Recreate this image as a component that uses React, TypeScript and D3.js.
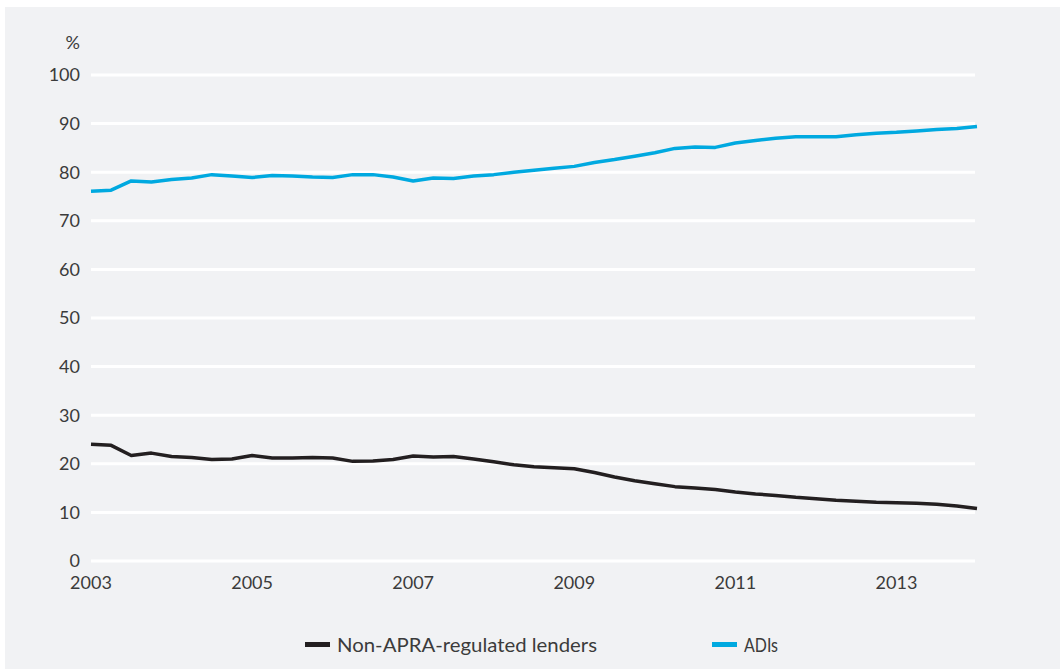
import { useMemo } from "react";
import * as d3 from "d3";

// quarterly observations, 2003 Q1 to 2014 Q1
const startYear = 2003;
const adis = [
  76.1, 76.3, 78.2, 78.0, 78.5, 78.8, 79.5, 79.2, 78.9, 79.3, 79.2, 79.0,
  78.9, 79.5, 79.5, 79.0, 78.2, 78.8, 78.7, 79.2, 79.5, 80.0, 80.4, 80.8,
  81.2, 82.0, 82.6, 83.3, 84.0, 84.9, 85.2, 85.1, 86.0, 86.5, 87.0, 87.3,
  87.3, 87.3, 87.7, 88.0, 88.2, 88.5, 88.8, 89.0, 89.4,
];
const nonApra = [
  24.0, 23.8, 21.7, 22.2, 21.5, 21.3, 20.9, 21.0, 21.7, 21.2, 21.2, 21.3,
  21.2, 20.5, 20.6, 20.9, 21.6, 21.4, 21.5, 21.0, 20.4, 19.8, 19.4, 19.2,
  19.0, 18.2, 17.3, 16.5, 15.9, 15.3, 15.0, 14.7, 14.2, 13.8, 13.5, 13.1,
  12.8, 12.5, 12.3, 12.1, 12.0, 11.9, 11.7, 11.3, 10.8,
];
const yTicks = [0, 10, 20, 30, 40, 50, 60, 70, 80, 90, 100];
const xTicks = [2003, 2005, 2007, 2009, 2011, 2013];
const seriesNames = ["Non-APRA-regulated lenders", "ADIs"];
const seriesColors = ["#231f20", "#00a9e0"];

const W = 1060;
const H = 669;
const font = "Lato, 'Open Sans', sans-serif";
const textColor = "#3b3b3b";

export default function App() {
  const x = d3.scaleLinear().domain([2003, 2014]).range([91, 977]);
  const y = d3.scaleLinear().domain([0, 100]).range([561, 75]);

  const line = useMemo(
    () =>
      d3
        .line<number>()
        .x((_, i) => x(startYear + i / 4))
        .y((d) => y(d)),
    []
  );

  const series = [nonApra, adis];

  return (
    <svg
      width={W}
      height={H}
      style={{ position: "absolute", left: 0, top: 0 }}
      fontFamily={font}
    >
      <rect x={0} y={0} width={W} height={H} fill="#ffffff" />
      <rect x={5} y={7} width={W - 5} height={H - 7} fill="#f1f2f4" />

      {/* gridlines + y labels */}
      {yTicks.map((t) => (
        <g key={t}>
          <line
            x1={91}
            x2={975}
            y1={y(t)}
            y2={y(t)}
            stroke="#ffffff"
            strokeWidth={3}
          />
          <text
            x={80}
            y={y(t)}
            dy="0.35em"
            textAnchor="end"
            fontSize={18}
            fill={textColor}
          >
            {t}
          </text>
        </g>
      ))}
      <text x={80} y={43} dy="0.35em" textAnchor="end" fontSize={18} fill={textColor}>
        %
      </text>

      {/* x labels */}
      {xTicks.map((t) => (
        <text
          key={t}
          x={x(t)}
          y={583}
          dy="0.35em"
          textAnchor="middle"
          fontSize={18}
          fill={textColor}
        >
          {t}
        </text>
      ))}

      {/* lines */}
      {series.map((s, i) => (
        <path
          key={i}
          d={line(s) ?? ""}
          fill="none"
          stroke={seriesColors[i]}
          strokeWidth={3.5}
          strokeLinejoin="round"
        />
      ))}

      {/* legend */}
      {seriesNames.map((name, i) => {
        const lx = i === 0 ? 305 : 712;
        return (
          <g key={name}>
            <rect x={lx} y={642} width={25} height={5} fill={seriesColors[i]} />
            <text
              x={lx + 32}
              y={645}
              dy="0.35em"
              fontSize={19}
              fill={textColor}
              textLength={i === 0 ? 260 : 34}
              lengthAdjust="spacingAndGlyphs"
            >
              {name}
            </text>
          </g>
        );
      })}
    </svg>
  );
}
